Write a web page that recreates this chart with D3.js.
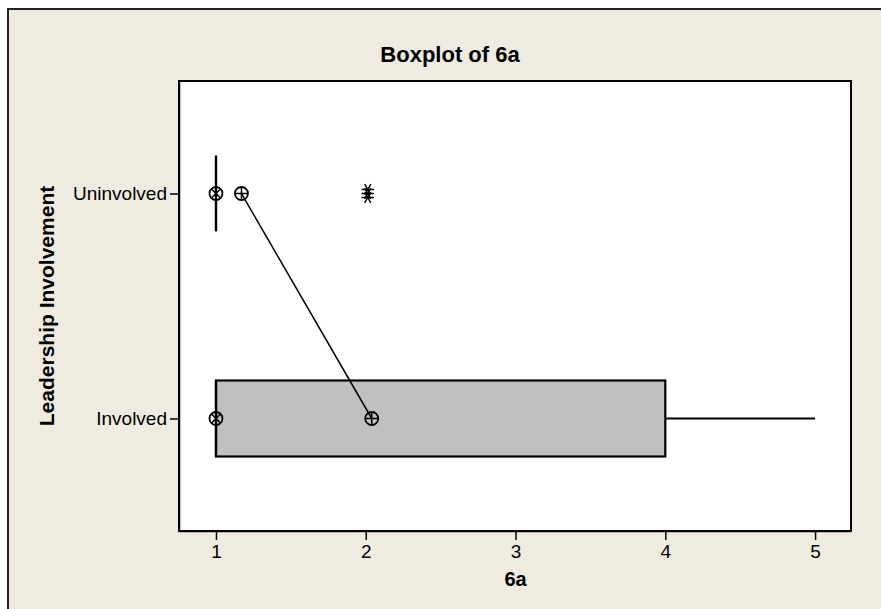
<!DOCTYPE html>
<html>
<head>
<meta charset="utf-8">
<script src="https://cdn.jsdelivr.net/npm/d3@7"></script>
<style>
body { margin: 0; background: #ffffff; }
text { font-family: "Liberation Sans", Arial, sans-serif; fill: #000; }
.axis path, .axis line { stroke: #000; stroke-width: 1.5; }
.axis text { font-size: 19px; }
</style>
</head>
<body>
<svg id="chart" width="881" height="609"></svg>
<script>
// data
var categories = ["Uninvolved", "Involved"];
var q1 = [1, 1];
var median = [1, 1];
var q3 = [1, 4];
var whiskLow = [1, 1];
var whiskHigh = [1, 5];
var means = [1.17, 2.04];
var outliers = [[2, 2, 2], []];
var xTicks = [1, 2, 3, 4, 5];

var W = 881, H = 609;
var plot = { left: 179, top: 81, right: 851, bottom: 531 };

var svg = d3.select("#chart");

// frame background
svg.append("rect").attr("x", 0).attr("y", 0).attr("width", W).attr("height", H).attr("fill", "#fff");
svg.append("rect")
    .attr("x", 8).attr("y", 9).attr("width", 900).attr("height", 640)
    .attr("fill", "#efebe1").attr("stroke", "#222").attr("stroke-width", 2);

// plot area
svg.append("rect")
    .attr("x", plot.left).attr("y", plot.top)
    .attr("width", plot.right - plot.left).attr("height", plot.bottom - plot.top)
    .attr("fill", "#fff");

var x = d3.scaleLinear().domain([0.753, 5.24]).range([plot.left, plot.right]);
var y = d3.scalePoint().domain(categories).range([plot.top, plot.bottom]).padding(0.5);
var boxH = 76;

// axes
svg.append("g").attr("class", "axis")
    .attr("transform", "translate(0," + plot.bottom + ")")
    .call(d3.axisBottom(x).tickValues(xTicks).tickFormat(d3.format("d")).tickSize(9).tickSizeOuter(0).tickPadding(5));
svg.append("g").attr("class", "axis")
    .attr("transform", "translate(" + plot.left + ",0)")
    .call(d3.axisLeft(y).tickSize(9).tickSizeOuter(0).tickPadding(3));

// boxes
var groups = categories.map(function(c, i) { return { cat: c, i: i }; });

// whiskers
svg.selectAll(".whisk").data(groups).enter().append("line")
    .attr("x1", function(d) { return x(q3[d.i]); })
    .attr("x2", function(d) { return x(whiskHigh[d.i]); })
    .attr("y1", function(d) { return y(d.cat); })
    .attr("y2", function(d) { return y(d.cat); })
    .attr("stroke", "#000").attr("stroke-width", 2);
svg.selectAll(".whiskL").data(groups).enter().append("line")
    .attr("x1", function(d) { return x(whiskLow[d.i]); })
    .attr("x2", function(d) { return x(q1[d.i]); })
    .attr("y1", function(d) { return y(d.cat); })
    .attr("y2", function(d) { return y(d.cat); })
    .attr("stroke", "#000").attr("stroke-width", 2);

svg.selectAll(".box").data(groups).enter().append("rect")
    .attr("x", function(d) { return x(q1[d.i]); })
    .attr("width", function(d) { return x(q3[d.i]) - x(q1[d.i]); })
    .attr("y", function(d) { return y(d.cat) - boxH / 2; })
    .attr("height", boxH)
    .attr("fill", "#c0c0c0").attr("stroke", "#000").attr("stroke-width", 2.2);

// median lines
svg.selectAll(".med").data(groups).enter().append("line")
    .attr("x1", function(d) { return x(median[d.i]); })
    .attr("x2", function(d) { return x(median[d.i]); })
    .attr("y1", function(d) { return y(d.cat) - boxH / 2; })
    .attr("y2", function(d) { return y(d.cat) + boxH / 2; })
    .attr("stroke", "#000").attr("stroke-width", 2.4);

// mean connect line
svg.append("path")
    .datum(groups)
    .attr("d", d3.line().x(function(d) { return x(means[d.i]); }).y(function(d) { return y(d.cat); }))
    .attr("fill", "none").attr("stroke", "#000").attr("stroke-width", 1.5);

var r = 6.5;
// median symbols (circle with x)
var medSym = svg.selectAll(".medsym").data(groups).enter().append("g")
    .attr("transform", function(d) { return "translate(" + x(median[d.i]) + "," + y(d.cat) + ")"; });
medSym.append("circle").attr("r", r).attr("fill", "none").attr("stroke", "#000").attr("stroke-width", 1.8);
medSym.append("path").attr("d", "M-4.5,-4.5L4.5,4.5M-4.5,4.5L4.5,-4.5").attr("stroke", "#000").attr("stroke-width", 1.5);

// mean symbols (circle with +)
var meanSym = svg.selectAll(".meansym").data(groups).enter().append("g")
    .attr("transform", function(d) { return "translate(" + x(means[d.i]) + "," + y(d.cat) + ")"; });
meanSym.append("circle").attr("r", r).attr("fill", "none").attr("stroke", "#000").attr("stroke-width", 1.8);
meanSym.append("path").attr("d", "M-6.5,0L6.5,0M0,-6.5L0,6.5").attr("stroke", "#000").attr("stroke-width", 1.5);

// outliers (asterisks)
groups.forEach(function(g) {
    svg.selectAll(".out" + g.i).data(outliers[g.i]).enter().append("path")
        .attr("transform", function(d, k) { return "translate(" + (x(d) + 2) + "," + (y(g.cat) + (k - 1) * 4) + ") rotate(90)"; })
        .attr("d", d3.symbol().type(d3.symbolAsterisk).size(110))
        .attr("fill", "none").attr("stroke", "#000").attr("stroke-width", 1.4);
});

// plot border
svg.append("rect")
    .attr("x", plot.left).attr("y", plot.top)
    .attr("width", plot.right - plot.left).attr("height", plot.bottom - plot.top)
    .attr("fill", "none").attr("stroke", "#000").attr("stroke-width", 2);

// titles
svg.append("text").attr("x", 450).attr("y", 62).attr("text-anchor", "middle")
    .attr("font-size", 22).attr("font-weight", "bold").text("Boxplot of 6a");
svg.append("text").attr("x", x(3)).attr("y", 586).attr("text-anchor", "middle")
    .attr("font-size", 20).attr("font-weight", "bold").text("6a");
svg.append("text").attr("transform", "translate(54," + ((plot.top + plot.bottom) / 2) + ") rotate(-90)")
    .attr("text-anchor", "middle").attr("font-size", 21).attr("font-weight", "bold").text("Leadership Involvement");
</script>
</body>
</html>
